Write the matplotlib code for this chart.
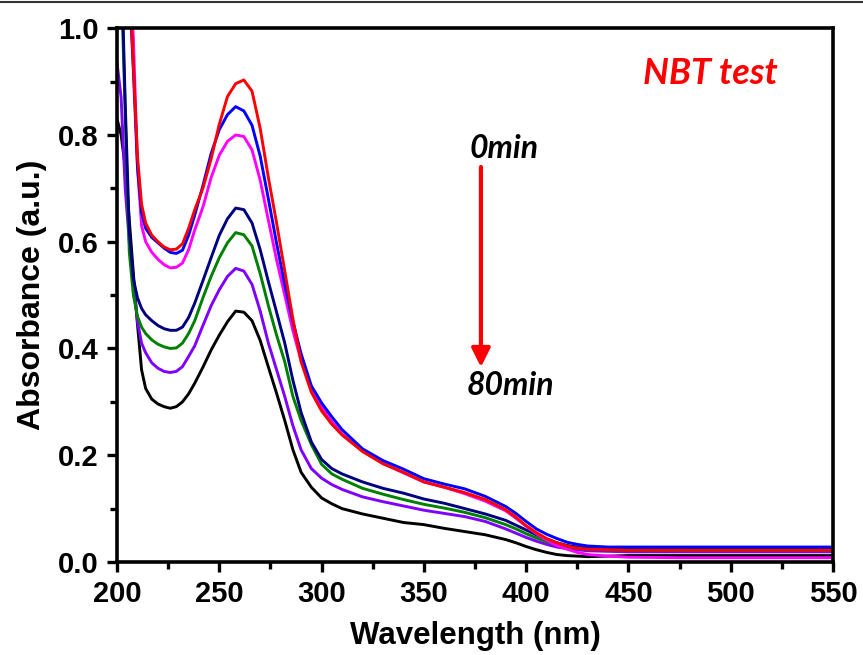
import matplotlib
matplotlib.use("Agg")
import matplotlib.pyplot as plt
from matplotlib.ticker import MultipleLocator
from matplotlib.lines import Line2D

# ---------------- data ----------------
wavelength = [200, 202, 204, 206, 208, 210, 212, 214, 217, 220, 223, 226, 229, 232, 235, 238,
              242, 246, 250, 254, 258, 262, 266, 270, 274, 278, 282, 286, 290, 295, 300, 305,
              310, 320, 330, 340, 350, 360, 370, 380, 390, 395, 400, 405, 410, 415, 420, 425,
              430, 440, 450, 475, 500, 525, 550]

abs_red = [1.60, 1.45, 1.30, 1.10, 0.93, 0.76, 0.67, 0.635, 0.612, 0.600, 0.590, 0.585, 0.586, 0.596, 0.625, 0.660,
           0.700, 0.755, 0.820, 0.872, 0.896, 0.903, 0.882, 0.812, 0.720, 0.635, 0.545, 0.455, 0.375, 0.318, 0.283, 0.258,
           0.238, 0.207, 0.184, 0.168, 0.150, 0.140, 0.130, 0.117, 0.098, 0.084, 0.068, 0.055, 0.044, 0.036, 0.030, 0.026,
           0.024, 0.023, 0.022, 0.022, 0.022, 0.022, 0.022]

abs_blue = [1.60, 1.42, 1.26, 1.08, 0.92, 0.74, 0.655, 0.625, 0.608, 0.598, 0.588, 0.580, 0.578, 0.584, 0.612, 0.650,
            0.705, 0.765, 0.810, 0.838, 0.853, 0.845, 0.818, 0.760, 0.680, 0.597, 0.520, 0.450, 0.390, 0.330, 0.298, 0.272,
            0.248, 0.212, 0.190, 0.174, 0.156, 0.146, 0.137, 0.123, 0.104, 0.091, 0.076, 0.062, 0.052, 0.044, 0.037, 0.033,
            0.030, 0.028, 0.028, 0.028, 0.028, 0.028, 0.028]

abs_magenta = [1.50, 1.34, 1.20, 1.12, 0.98, 0.74, 0.630, 0.600, 0.580, 0.567, 0.557, 0.551, 0.552, 0.560, 0.585, 0.622,
               0.665, 0.720, 0.762, 0.788, 0.800, 0.797, 0.772, 0.715, 0.640, 0.566, 0.500, 0.433, 0.377, 0.328, 0.290, 0.263,
               0.240, 0.208, 0.185, 0.167, 0.150, 0.140, 0.128, 0.114, 0.096, 0.082, 0.067, 0.053, 0.041, 0.031, 0.024, 0.018,
               0.014, 0.011, 0.009, 0.008, 0.008, 0.008, 0.008]

abs_navy = [1.35, 1.15, 0.86, 0.62, 0.53, 0.495, 0.475, 0.463, 0.452, 0.443, 0.437, 0.434, 0.434, 0.440, 0.458, 0.485,
            0.527, 0.570, 0.612, 0.643, 0.663, 0.660, 0.635, 0.585, 0.525, 0.468, 0.410, 0.340, 0.280, 0.225, 0.192, 0.175,
            0.165, 0.150, 0.138, 0.129, 0.118, 0.110, 0.100, 0.090, 0.078, 0.069, 0.060, 0.051, 0.043, 0.036, 0.031, 0.028,
            0.026, 0.025, 0.024, 0.024, 0.024, 0.024, 0.024]

abs_green = [1.30, 1.10, 0.84, 0.58, 0.50, 0.460, 0.440, 0.428, 0.416, 0.408, 0.403, 0.400, 0.401, 0.410, 0.428, 0.452,
             0.495, 0.535, 0.570, 0.598, 0.617, 0.613, 0.592, 0.540, 0.480, 0.425, 0.375, 0.310, 0.265, 0.220, 0.183, 0.165,
             0.155, 0.138, 0.127, 0.117, 0.108, 0.101, 0.093, 0.083, 0.070, 0.062, 0.053, 0.045, 0.038, 0.032, 0.028, 0.026,
             0.024, 0.023, 0.022, 0.022, 0.022, 0.022, 0.022]

abs_purple = [0.935, 0.87, 0.70, 0.60, 0.52, 0.450, 0.410, 0.392, 0.373, 0.363, 0.357, 0.355, 0.357, 0.366, 0.385, 0.405,
              0.443, 0.480, 0.510, 0.535, 0.550, 0.545, 0.520, 0.470, 0.410, 0.360, 0.310, 0.255, 0.210, 0.175, 0.157, 0.145,
              0.136, 0.122, 0.113, 0.105, 0.097, 0.091, 0.085, 0.076, 0.062, 0.054, 0.046, 0.039, 0.033, 0.028, 0.025, 0.023,
              0.021, 0.020, 0.019, 0.019, 0.019, 0.019, 0.019]

abs_black = [0.83, 0.80, 0.74, 0.64, 0.54, 0.445, 0.360, 0.325, 0.305, 0.296, 0.291, 0.288, 0.291, 0.300, 0.315, 0.335,
             0.365, 0.397, 0.425, 0.450, 0.470, 0.468, 0.452, 0.415, 0.365, 0.316, 0.265, 0.210, 0.168, 0.140, 0.120, 0.109,
             0.100, 0.090, 0.082, 0.074, 0.070, 0.063, 0.057, 0.051, 0.042, 0.036, 0.029, 0.023, 0.018, 0.014, 0.012, 0.011,
             0.010, 0.011, 0.012, 0.012, 0.012, 0.012, 0.012]

series = [abs_red, abs_blue, abs_magenta, abs_navy, abs_green, abs_purple, abs_black]
colors = ["#ff0000", "#0000ff", "#ff00ff", "#000080", "#008000", "#8000ff", "#000000"]

x_ticks = [200, 250, 300, 350, 400, 450, 500, 550]
y_ticks = [0.0, 0.2, 0.4, 0.6, 0.8, 1.0]

# ---------------- figure ----------------
tick_family = ["Liberation Sans", "DejaVu Sans"]
label_family = ["Liberation Sans", "DejaVu Sans"]
note_family = ["Lato", "Open Sans", "DejaVu Sans"]

fig = plt.figure(figsize=(8.63, 6.55), dpi=100)
ax = fig.add_axes([0.1356, 0.142, 0.8296, 0.815])

# draw black first so red ends on top
for vals, c in list(zip(series, colors))[::-1]:
    ax.plot(wavelength, vals, color=c, lw=2.1, solid_joinstyle="round")

ax.set_xlim(200, 550)
ax.set_ylim(0.0, 1.0)
ax.set_xticks(x_ticks)
ax.set_yticks(y_ticks)
ax.set_xticklabels([str(v) for v in x_ticks])
ax.set_yticklabels([f"{v:.1f}" for v in y_ticks])
ax.xaxis.set_minor_locator(MultipleLocator(25))
ax.yaxis.set_minor_locator(MultipleLocator(0.1))

for s in ax.spines.values():
    s.set_linewidth(2.6)

ax.tick_params(axis="both", which="major", direction="out", length=7, width=2.4,
               top=False, right=False, pad=6)
ax.tick_params(axis="both", which="minor", direction="out", length=5, width=2.4,
               top=False, right=False)
for lab in ax.get_xticklabels() + ax.get_yticklabels():
    lab.set_fontfamily(tick_family)
    lab.set_fontweight("bold")
    lab.set_fontsize(21)

ax.set_xlabel("Wavelength (nm)", fontsize=22.5, fontweight="bold", family=label_family, labelpad=9)
ax.set_ylabel("Absorbance (a.u.)", fontsize=23, fontweight="bold", family=label_family, labelpad=8)

# annotations
ax.text(457, 0.916, "NBT test", color="#ff0000", fontsize=26, fontweight="bold",
        fontstyle="italic", family=note_family, ha="left", va="center")
ax.text(372.5, 0.775, "0min", color="black", fontsize=23, fontweight="bold",
        fontstyle="italic", family=note_family, ha="left", va="center")
ax.text(371, 0.33, "80min", color="black", fontsize=23, fontweight="bold",
        fontstyle="italic", family=note_family, ha="left", va="center")
ax.annotate("", xy=(377.9, 0.365), xytext=(377.9, 0.74),
            arrowprops=dict(arrowstyle="-|>", color="#ff0000", lw=3,
                            mutation_scale=28, shrinkA=0, shrinkB=0))

# thin border line at the very top of the picture
fig.add_artist(Line2D([0, 1], [0.9965, 0.9965], transform=fig.transFigure,
                      color="#333333", lw=1.5))

fig.savefig("out.png", dpi=100)
